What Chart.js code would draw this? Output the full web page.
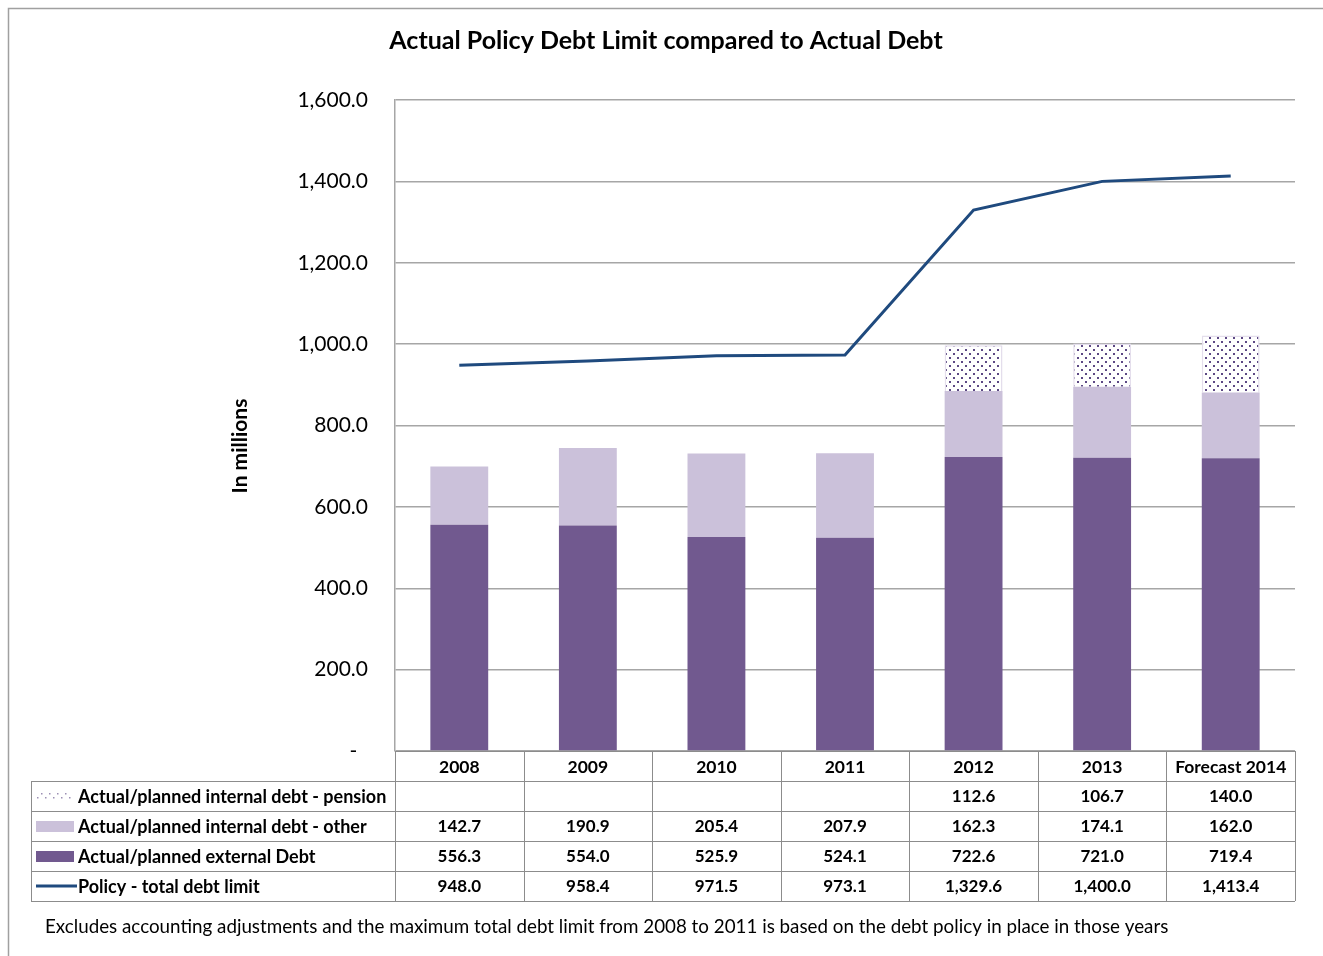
<!DOCTYPE html>
<html>
<head>
<meta charset="utf-8">
<script src="https://cdn.jsdelivr.net/npm/chart.js@4"></script>
<style>
  html, body { margin: 0; padding: 0; background: #fff; }
  #wrap { width: 1323px; height: 956px; }
</style>
</head>
<body>
<div id="wrap"><canvas id="debtChart" width="1323" height="956"></canvas></div>
<script>
// data
const years = ['2008', '2009', '2010', '2011', '2012', '2013', 'Forecast 2014'];
const pension = [null, null, null, null, 112.6, 106.7, 140.0];
const internalOther = [142.7, 190.9, 205.4, 207.9, 162.3, 174.1, 162.0];
const external = [556.3, 554.0, 525.9, 524.1, 722.6, 721.0, 719.4];
const policyLimit = [948.0, 958.4, 971.5, 973.1, 1329.6, 1400.0, 1413.4];
const yTicks = [0, 200, 400, 600, 800, 1000, 1200, 1400, 1600];

const labelPension = 'Actual/planned internal debt - pension';
const labelOther = 'Actual/planned internal debt - other';
const labelExternal = 'Actual/planned external Debt';
const labelPolicy = 'Policy - total debt limit';

const FONT = 'Lato, "Open Sans", sans-serif';
const darkPurple = '#71598F';
const lightPurple = '#CBC1DA';
const lineBlue = '#1F4A7E';
const gridGrey = '#A6A6A6';

function dotPattern(ctx, dot, bg, size) {
  const c = document.createElement('canvas');
  c.width = 8; c.height = 8;
  const g = c.getContext('2d');
  g.fillStyle = bg; g.fillRect(0, 0, 8, 8);
  g.fillStyle = dot;
  g.fillRect(1, 1, size, size);
  g.fillRect(5, 5, size, size);
  return ctx.createPattern(c, 'repeat');
}

const fmt = v => v.toLocaleString('en-US', { minimumFractionDigits: 1, maximumFractionDigits: 1 });

const canvas = document.getElementById('debtChart');
const ctx = canvas.getContext('2d');
const pensionFill = dotPattern(ctx, '#5C4884', '#ffffff', 2);
const pensionKey = dotPattern(ctx, '#9C8FB4', '#ffffff', 1.5);

const tablePlugin = {
  id: 'tablePlugin',
  afterDraw(chart) {
    const c = chart.ctx;
    const x = chart.scales.x;
    const area = chart.chartArea;
    const n = years.length;
    const colW = (area.right - area.left) / n;
    const top = area.bottom;
    const rowH = 30;
    const tableLeft = 31;
    c.save();

    // outer frame
    c.strokeStyle = '#A0A0A0';
    c.lineWidth = 1.5;
    c.beginPath();
    c.moveTo(8.5, 960); c.lineTo(8.5, 8.5); c.lineTo(1330, 8.5);
    c.stroke();

    // title
    c.fillStyle = '#000';
    c.textAlign = 'center';
    c.textBaseline = 'middle';
    c.font = 'bold 25px ' + FONT;
    c.fillText('Actual Policy Debt Limit compared to Actual Debt', 666, 41);

    // y title
    c.save();
    c.translate(240, 446);
    c.rotate(-Math.PI / 2);
    c.font = 'bold 21px ' + FONT;
    c.fillText('In millions', 0, 0);
    c.restore();

    // table grid
    c.strokeStyle = '#8C8C8C';
    c.lineWidth = 1;
    c.beginPath();
    for (let r = 0; r <= 5; r++) {
      const yy = Math.round(top + r * rowH) + 0.5;
      c.moveTo(r === 0 ? area.left : tableLeft, yy);
      c.lineTo(area.right, yy);
    }
    c.moveTo(tableLeft + 0.5, top + rowH); c.lineTo(tableLeft + 0.5, top + 5 * rowH);
    for (let i = 0; i <= n; i++) {
      const xx = Math.round(area.left + i * colW) + 0.5;
      c.moveTo(xx, top); c.lineTo(xx, top + 5 * rowH);
    }
    c.stroke();

    // header + values
    c.textAlign = 'center';
    const rows = [pension, internalOther, external, policyLimit];
    years.forEach((yr, i) => {
      const cx = x.getPixelForValue(i);
      c.font = 'bold 17.5px ' + FONT;
      c.fillText(yr, cx, top + rowH / 2 + 1);
      c.font = 'bold 17px ' + FONT;
      rows.forEach((arr, r) => {
        if (arr[i] != null) c.fillText(fmt(arr[i]), cx, top + rowH * (r + 1) + rowH / 2 + 1);
      });
    });

    // legend keys in table
    const labels = [labelPension, labelOther, labelExternal, labelPolicy];
    c.textAlign = 'left';
    c.font = 'bold 18px ' + FONT;
    labels.forEach((t, r) => {
      const cy = top + rowH * (r + 1) + rowH / 2;
      if (r === 0) { c.fillStyle = pensionKey; c.fillRect(36, cy - 5, 37, 10); }
      if (r === 1) { c.fillStyle = lightPurple; c.fillRect(36, cy - 5, 38, 11); }
      if (r === 2) { c.fillStyle = darkPurple; c.fillRect(36, cy - 5, 38, 11); }
      if (r === 3) {
        c.strokeStyle = lineBlue; c.lineWidth = 3;
        c.beginPath(); c.moveTo(36, cy); c.lineTo(77, cy); c.stroke();
      }
      c.fillStyle = '#000';
      c.fillText(t, 78, cy + 1);
    });

    // footnote
    c.font = '18.8px ' + FONT;
    c.fillText('Excludes accounting adjustments and the maximum total debt limit from 2008 to 2011 is based on the debt policy in place in those years', 45, 927);
    c.restore();
  }
};

new Chart(canvas, {
  data: {
    labels: years,
    datasets: [
      {
        type: 'line',
        label: labelPolicy,
        data: policyLimit,
        borderColor: lineBlue,
        borderWidth: 3,
        pointRadius: 0,
        tension: 0,
        stack: 'policy',
        order: 0
      },
      {
        type: 'bar',
        label: labelExternal,
        data: external,
        backgroundColor: darkPurple,
        stack: 'debt',
        order: 1
      },
      {
        type: 'bar',
        label: labelOther,
        data: internalOther,
        backgroundColor: lightPurple,
        stack: 'debt',
        order: 1
      },
      {
        type: 'bar',
        label: labelPension,
        data: pension,
        backgroundColor: pensionFill,
        borderColor: '#E4DEEC',
        borderWidth: 1.5,
        stack: 'debt',
        order: 1
      }
    ]
  },
  options: {
    responsive: false,
    animation: false,
    devicePixelRatio: 1,
    layout: { padding: { top: 100, right: 28, bottom: 205, left: 0 } },
    datasets: { bar: { barPercentage: 0.45, categoryPercentage: 1 } },
    plugins: {
      legend: { display: false },
      title: { display: false },
      tooltip: { enabled: false }
    },
    scales: {
      x: { display: false, stacked: true },
      y: {
        stacked: true,
        min: 0,
        max: 1600,
        afterFit(scale) { scale.width = 395; },
        afterBuildTicks(scale) { scale.ticks = yTicks.map(v => ({ value: v })); },
        grid: { color: gridGrey, lineWidth: 1.5, drawTicks: false },
        border: { display: true, color: gridGrey, width: 1.5 },
        ticks: {
          padding: 27,
          color: '#000',
          font: { family: FONT, size: 21 },
          callback: v => v === 0 ? '-  ' : fmt(v)
        }
      }
    }
  },
  plugins: [tablePlugin]
});
</script>
</body>
</html>
